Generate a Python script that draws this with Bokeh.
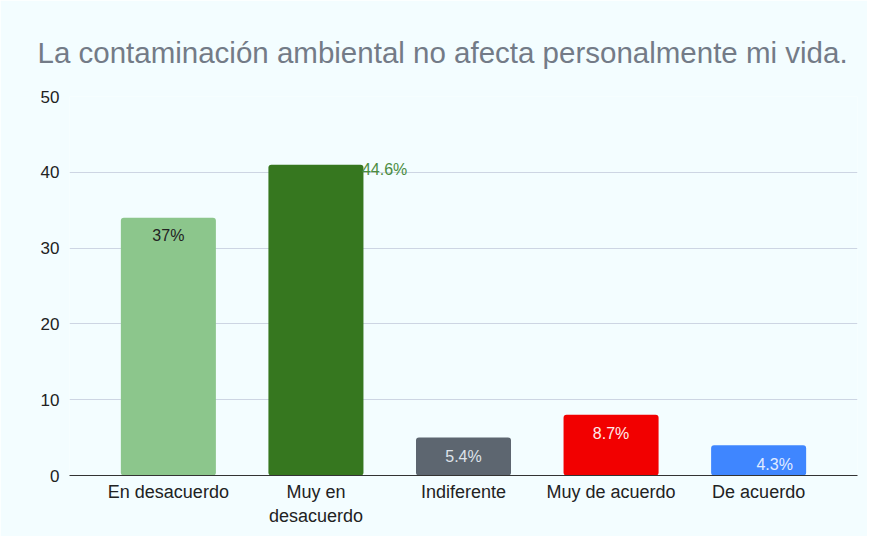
from bokeh.plotting import figure
from bokeh.models import ColumnDataSource, LabelSet, FixedTicker, Range1d, FactorRange
from bokeh.core.properties import value
from bokeh.embed import file_html
from bokeh.resources import INLINE

# ---- data ----
categories = ["En desacuerdo", "Muy en\ndesacuerdo", "Indiferente", "Muy de acuerdo", "De acuerdo"]
counts = [34, 41, 5, 8, 4]
pct_labels = ["37%", "44.6%", "5.4%", "8.7%", "4.3%"]
y_ticks = [0, 10, 20, 30, 40, 50]

# ---- styles ----
bar_colors = ["#8cc68c", "#36771f", "#5d6670", "#f20000", "#3f86ff"]
label_colors = ["#222222", "#4b8c3f", "#dfe3ea", "#ffecec", "#e2ecff"]
label_dx = [0, 46, 0, 0, 16]
label_dy = [-18, -5, -19, -19, -19]
label_align = ["center", "left", "center", "center", "center"]
FONT = "Liberation Sans"
BG = "#f3fdff"

src = ColumnDataSource(dict(
    cat=categories, count=counts, label=pct_labels, color=bar_colors,
    lcolor=label_colors, dx=label_dx, dy=label_dy, align=label_align,
))

p = figure(
    width=867, height=536,
    x_range=FactorRange(*categories, range_padding=0.17, range_padding_units="absolute"),
    y_range=Range1d(0, 50),
    output_backend="svg", toolbar_location=None,
    min_border_left=69, min_border_right=10, min_border_top=96, min_border_bottom=61,
)
p.background_fill_color = BG
p.border_fill_color = BG
p.outline_line_color = None

p.vbar(x="cat", top="count", width=0.644, source=src, color="color",
       line_color=None, border_radius=3)

labels = LabelSet(x="cat", y="count", text="label", source=src,
                  x_offset="dx", y_offset="dy", text_color="lcolor",
                  text_align="align", text_baseline="middle",
                  text_font=value(FONT), text_font_size=value("16px"))
p.add_layout(labels)

# title
p.title.text = "La contaminación ambiental no afecta personalmente mi vida."
p.title.text_font = FONT
p.title.text_font_size = "29.5px"
p.title.text_font_style = "normal"
p.title.text_color = "#737b87"
p.title.align = "left"
p.title.offset = -32
p.title.standoff = 55

# y axis
p.yaxis.ticker = FixedTicker(ticks=y_ticks)
p.yaxis.axis_line_color = None
p.yaxis.major_tick_line_color = None
p.yaxis.major_tick_out = 0
p.yaxis.major_tick_in = 0
p.yaxis.minor_tick_line_color = None
p.yaxis.major_label_text_font = FONT
p.yaxis.major_label_text_font_size = "17px"
p.yaxis.major_label_text_color = "#222222"
p.yaxis.major_label_standoff = 10

# x axis
p.xaxis.axis_line_color = "#333333"
p.xaxis.axis_line_width = 1
p.xaxis.major_tick_line_color = None
p.xaxis.major_tick_out = 0
p.xaxis.major_tick_in = 0
p.xaxis.minor_tick_line_color = None
p.xaxis.major_label_text_font = FONT
p.xaxis.major_label_text_font_size = "18px"
p.xaxis.major_label_text_color = "#222222"
p.xaxis.major_label_standoff = 6

p.xgrid.grid_line_color = None
p.ygrid.grid_line_color = "#cdd5e3"
p.ygrid.grid_line_width = 1

open("out.html", "w").write(file_html(p, INLINE))
